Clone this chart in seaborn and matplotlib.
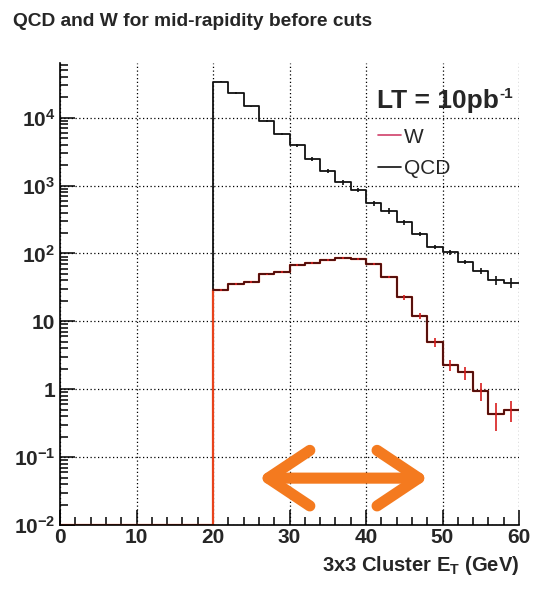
import numpy as np
import pandas as pd
import matplotlib.pyplot as plt
import seaborn as sns
from matplotlib.ticker import FixedLocator, FixedFormatter, MultipleLocator, LogLocator, NullFormatter
from matplotlib.lines import Line2D

# bin edges of both histograms (2 GeV bins, 0-60 GeV)
bin_edges = list(range(0, 62, 2))
# only the bins from 20 to 60 GeV are filled
qcd_counts = [34000, 23200, 14700, 9000, 5800, 3900, 2480, 1650, 1120, 863,
              550, 428, 288, 194, 126, 104, 75, 55, 40, 37]
qcd_err = [700, 550, 420, 320, 250, 200, 150, 110, 85, 70,
           50, 40, 22, 14, 9, 8, 6, 6, 6, 6]
w_counts = [28.9, 36, 38, 49, 53, 67, 73, 81, 86, 83,
            69, 45, 22.6, 11.9, 4.9, 2.27, 1.77, 0.95, 0.43, 0.50]
w_err = [1.0, 1.2, 1.2, 1.5, 1.6, 2.0, 2.2, 2.4, 2.5, 2.5,
         2.5, 2.2, 2.0, 1.2, 0.7, 0.4, 0.38, 0.28, 0.19, 0.17]

x_ticks = [0, 10, 20, 30, 40, 50, 60]
y_ticks = [1e-2, 1e-1, 1, 10, 1e2, 1e3, 1e4]
y_tick_labels = [r'$\mathbf{10^{-2}}$', r'$\mathbf{10^{-1}}$', '1', '10',
                 r'$\mathbf{10^{2}}$', r'$\mathbf{10^{3}}$', r'$\mathbf{10^{4}}$']

sns.set_style('white')
plt.rcParams['font.family'] = ['Liberation Sans', 'DejaVu Sans']
plt.rcParams['mathtext.fontset'] = 'custom'
plt.rcParams['mathtext.rm'] = 'Liberation Sans'
plt.rcParams['mathtext.bf'] = 'Liberation Sans:bold'
plt.rcParams['mathtext.it'] = 'Liberation Sans:italic'

ymin, ymax = 1e-2, 6.4e4

fig = plt.figure(figsize=(5.42, 5.92), dpi=100)
ax = fig.add_axes([0.1107, 0.1132, 0.8469, 0.7804])

centers = np.array(bin_edges[:-1]) + 1
n_empty = len(centers) - len(qcd_counts)
# empty bins sit on the bottom of the log axis, like ROOT draws them
df = pd.DataFrame({
    'et': centers,
    'qcd': np.maximum(np.concatenate([np.zeros(n_empty), qcd_counts]), ymin),
    'w': np.maximum(np.concatenate([np.zeros(n_empty), w_counts]), ymin),
})
filled = df.iloc[n_empty:]

sns.histplot(data=df, x='et', weights='qcd', bins=bin_edges, element='step', fill=False,
             color='#111111', linewidth=1.3, ax=ax)
ax.errorbar(filled['et'], qcd_counts, yerr=qcd_err, fmt='none', ecolor='#111111',
            elinewidth=1.2)

sns.histplot(data=df, x='et', weights='w', bins=bin_edges, element='step', fill=False,
             color='#e8431c', linewidth=1.6, ax=ax)
sns.histplot(data=filled, x='et', weights='w', bins=bin_edges[n_empty:], element='step',
             fill=False, color='#4a0c0c', linewidth=1.3, ax=ax)
ax.errorbar(filled['et'], w_counts, yerr=w_err, fmt='none', ecolor='#d81e1e',
            elinewidth=1.2)

ax.set_yscale('log')
ax.set_xlim(0, 60)
ax.set_ylim(ymin, ymax)

ax.xaxis.set_major_locator(FixedLocator(x_ticks))
ax.xaxis.set_minor_locator(MultipleLocator(2))
ax.yaxis.set_major_locator(FixedLocator(y_ticks))
ax.yaxis.set_major_formatter(FixedFormatter(y_tick_labels))
ax.yaxis.set_minor_locator(LogLocator(base=10, subs=np.arange(2, 10), numticks=20))
ax.yaxis.set_minor_formatter(NullFormatter())
ax.tick_params(which='both', direction='in', left=True, bottom=True, top=False, right=False,
               color='black', width=1.1)
ax.tick_params(which='major', length=11, labelsize=15)
ax.tick_params(which='minor', length=6)
ax.tick_params(axis='x', which='major', pad=2.5)
ax.tick_params(axis='y', which='major', pad=3.5)
for lab in ax.get_xticklabels() + ax.get_yticklabels():
    lab.set_fontweight('bold')

ax.grid(True, which='major', color='black', linestyle=(0, (1, 2)), linewidth=0.9)
ax.spines['top'].set_visible(False)
ax.spines['right'].set_visible(False)
for s in ['left', 'bottom']:
    ax.spines[s].set_color('black')
    ax.spines[s].set_linewidth(1.2)

ax.set_ylabel('')
ax.set_xlabel(r'3x3 Cluster E$_{\mathbf{T}}$ (GeV)', loc='right', fontsize=14.5,
              fontweight='bold', labelpad=5)

fig.text(0.024, 1 - 22 / 592, 'QCD and W for mid-rapidity before cuts', fontsize=13.8,
         fontweight='bold', va='center', ha='left')

lt = ax.text(0.69, 0.903, 'LT = 10pb', transform=ax.transAxes, fontsize=19,
             fontweight='bold', va='baseline', ha='left')
ax.annotate('-1', xy=(1.0, 1.0), xycoords=lt, xytext=(0.5, 1), textcoords='offset points',
            fontsize=11, fontweight='bold', va='top', ha='left')

handles = [Line2D([], [], color='#d0406a', lw=1.2), Line2D([], [], color='#111111', lw=1.2)]
ax.legend(handles, ['W', 'QCD'], loc='upper left', bbox_to_anchor=(0.693, 0.86),
          frameon=False, fontsize=15, handlelength=1.1, handletextpad=0.12,
          labelspacing=0.6, borderpad=0, borderaxespad=0)

# orange double arrow
ax.annotate('', xy=(25.9, 0.049), xytext=(48.2, 0.049),
            arrowprops=dict(arrowstyle='<->, head_length=1.5, head_width=1.0',
                            color='#f47a1f', lw=8, capstyle='round', joinstyle='round',
                            mutation_scale=20, shrinkA=0, shrinkB=0))

fig.savefig('out.png', dpi=100)
